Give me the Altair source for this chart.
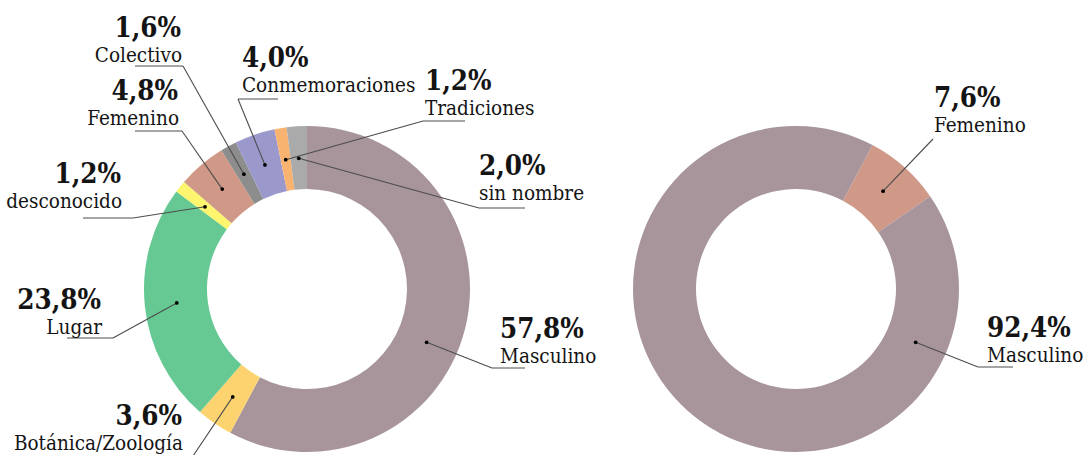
import math
import altair as alt
import pandas as pd

# ---------------- data ----------------
left_cats = ["Masculino", "Botánica/Zoología", "Lugar", "desconocido", "Femenino",
             "Colectivo", "Conmemoraciones", "Tradiciones", "sin nombre"]
left_vals = [57.8, 3.6, 23.8, 1.2, 4.8, 1.6, 4.0, 1.2, 2.0]
left_colors = ["#a8959c", "#fdd370", "#66c994", "#fdf56e", "#d09886",
               "#8d8d8d", "#9b98cc", "#f8b371", "#aaaaaa"]

right_cats = ["Femenino", "Masculino"]
right_vals = [7.6, 92.4]
right_colors = ["#d09886", "#a8959c"]

# ---------------- layout (label placement) ----------------
donuts = [
    dict(cats=left_cats, vals=left_vals, colors=left_colors, cx=307, cy=289, rot=0.0),
    dict(cats=right_cats, vals=right_vals, colors=right_colors, cx=796, cy=289, rot=28.0),
]
R_OUT, R_IN, R_DOT = 163, 100, 131

# per label: align, text x, percent baseline y, elbow (x, y), end x, optional dot angle (deg)
label_layout = [
    {"Masculino": ("left", 500, 338, 492, 368, 525, 114),
     "Botánica/Zoología": ("right", 182, 425, 189, 462, 189, None),
     "Lugar": ("right", 101, 309, 113, 338, 67, None),
     "desconocido": ("right", 121, 183, 133, 218, 83, None),
     "Femenino": ("right", 178, 100, 182, 131, 135, None),
     "Colectivo": ("right", 181, 37, 183, 66, 135, None),
     "Conmemoraciones": ("left", 242, 67, 238, 99, 278, None),
     "Tradiciones": ("left", 425, 90, 423, 121, 465, None),
     "sin nombre": ("left", 479, 175, 479, 208, 525, None)},
    {"Femenino": ("left", 934, 107, 933, 139, 933, None),
     "Masculino": ("left", 987, 337, 978, 367, 1013, 114)},
]

arc_rows, text_rows, seg_rows, dot_rows = [], [], [], []
for d, lay in zip(donuts, label_layout):
    total = sum(d["vals"])
    start = math.radians(d["rot"])
    for cat, val, col in zip(d["cats"], d["vals"], d["colors"]):
        span = 2 * math.pi * val / total
        t0, t1 = start, start + span
        start = t1
        arc_rows.append(dict(cat=cat, cx=d["cx"], cy=d["cy"], t0=t0, t1=t1, color=col))
        align, tx, ty, ex, ey, hx, dang = lay[cat]
        a = math.radians(dang) if dang is not None else (t0 + t1) / 2
        dx = d["cx"] + R_DOT * math.sin(a)
        dy = d["cy"] - R_DOT * math.cos(a)
        dot_rows.append(dict(x=dx, y=dy))
        seg_rows.append(dict(x=dx, y=dy, x2=ex, y2=ey))
        if hx != ex:
            seg_rows.append(dict(x=ex, y=ey, x2=hx, y2=ey))
        pct = f"{val:.1f}".replace(".", ",") + "%"
        text_rows.append(dict(x=tx, y=ty, txt=pct, align=align, kind="pct"))
        text_rows.append(dict(x=tx + (1 if align == "right" else 0), y=ty + 25, txt=cat,
                              align=align, kind="name"))

arcs = pd.DataFrame(arc_rows)
texts = pd.DataFrame(text_rows)
segs = pd.DataFrame(seg_rows)
dots = pd.DataFrame(dot_rows)

X = lambda f: alt.X(f, type="quantitative", scale=None, axis=None)
Y = lambda f: alt.Y(f, type="quantitative", scale=None, axis=None)

arc_layer = alt.Chart(arcs).mark_arc(radius=R_OUT, radius2=R_IN, stroke=None).encode(
    x=X("cx"), y=Y("cy"),
    theta=alt.Theta("t0:Q", scale=None), theta2=alt.Theta2("t1"),
    color=alt.Color("color:N", scale=None),
)

seg_layer = alt.Chart(segs).mark_rule(color="#4d4d4d", strokeWidth=1.1).encode(
    x=X("x"), y=Y("y"), x2=alt.X2("x2"), y2=alt.Y2("y2"))

dot_layer = alt.Chart(dots).mark_circle(size=14, color="#000000", opacity=1).encode(
    x=X("x"), y=Y("y"))

FONT = "DejaVu Serif Condensed, DejaVu Serif, serif"
text_layers = []
for align in ["left", "right"]:
    for kind, size, weight in [("pct", 27.5, "bold"), ("name", 20.5, "normal")]:
        sub = texts[(texts["align"] == align) & (texts["kind"] == kind)]
        text_layers.append(
            alt.Chart(sub).mark_text(align=align, baseline="alphabetic", font=FONT,
                                     fontSize=size, fontWeight=weight, color="#141414",
                                     limit=0).encode(
                x=X("x"), y=Y("y"), text="txt:N"))

chart = alt.layer(arc_layer, seg_layer, dot_layer, *text_layers).properties(
    width=1085, height=455, padding=0, autosize=alt.AutoSizeParams(type="none"),
    background="#ffffff",
).configure_view(stroke=None)

chart.save("out.html", embed_options={"renderer": "svg", "actions": False})
